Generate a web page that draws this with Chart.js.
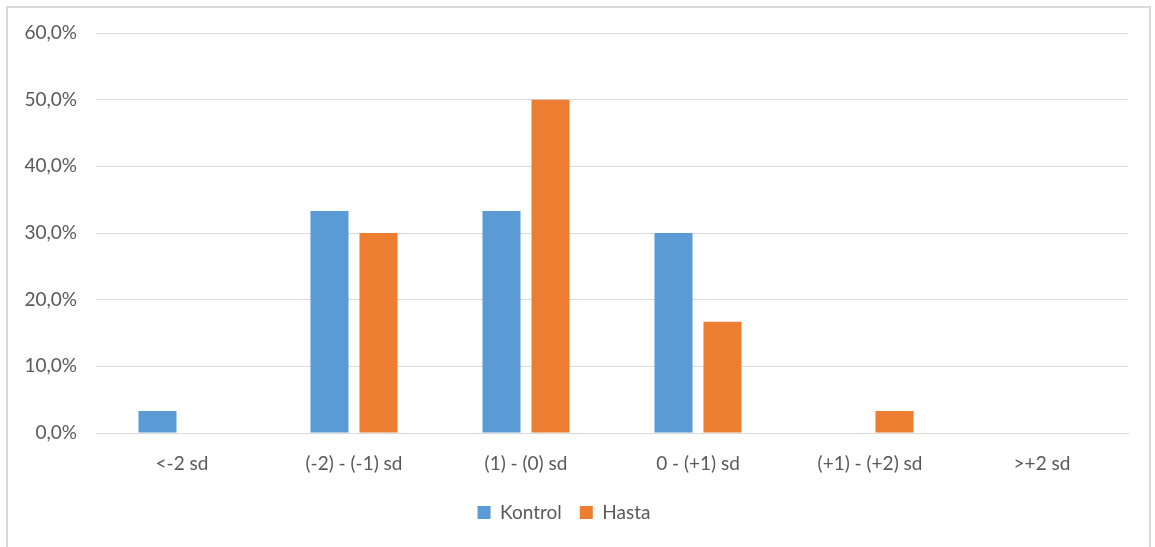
<!DOCTYPE html>
<html>
<head>
<meta charset="utf-8">
<script src="https://cdn.jsdelivr.net/npm/chart.js@4"></script>
<style>
    html, body { margin: 0; padding: 0; background: #fff; }
    #wrap { position: relative; width: 1155px; height: 547px; overflow: hidden; }
    #frame { position: absolute; left: 6px; top: 6px; width: 1145px; height: 560px; border: 2px solid #d9d9d9; box-sizing: border-box; }
    #chart { position: absolute; left: 0; top: 0; }
</style>
</head>
<body>
<div id="wrap">
    <div id="frame"></div>
    <canvas id="chart" width="1155" height="547"></canvas>
</div>
<script>
    const categories = ["<-2 sd", "(-2) - (-1) sd", "(1) - (0) sd", "0 - (+1) sd", "(+1) - (+2) sd", ">+2 sd"];
    const kontrol = [3.3, 33.3, 33.3, 30.0, 0, 0];
    const hasta = [0, 30.0, 50.0, 16.7, 3.3, 0];
    const yMax = 60;
    const yStep = 10;

    const textColor = "#595959";
    const gridColor = "#d9d9d9";
    const font = { family: "Lato", size: 19 };

    const ctx = document.getElementById("chart").getContext("2d");
    new Chart(ctx, {
        type: "bar",
        data: {
            labels: categories,
            datasets: [
                { label: "Kontrol", data: kontrol, backgroundColor: "#5b9bd5" },
                { label: "Hasta", data: hasta, backgroundColor: "#ed7d31" }
            ]
        },
        options: {
            responsive: false,
            animation: false,
            layout: { padding: { left: 0, right: 27, top: 33, bottom: 15 } },
            datasets: { bar: { categoryPercentage: 0.57, barPercentage: 0.776 } },
            plugins: {
                tooltip: { enabled: false },
                legend: {
                    position: "bottom",
                    labels: {
                        color: textColor,
                        font: font,
                        boxWidth: 13,
                        boxHeight: 13,
                        padding: 18
                    }
                }
            },
            scales: {
                x: {
                    grid: { display: false },
                    border: { color: gridColor },
                    ticks: { color: textColor, font: font, padding: 11, maxRotation: 0 },
                    afterFit: (scale) => { scale.height = 52; }
                },
                y: {
                    min: 0,
                    max: yMax,
                    ticks: {
                        stepSize: yStep,
                        color: textColor,
                        font: font,
                        padding: 19,
                        callback: (v) => v.toFixed(1).replace(".", ",") + "%"
                    },
                    grid: { color: gridColor, drawTicks: false },
                    border: { display: false },
                    afterFit: (scale) => { scale.width = 96; }
                }
            }
        }
    });
</script>
</body>
</html>
